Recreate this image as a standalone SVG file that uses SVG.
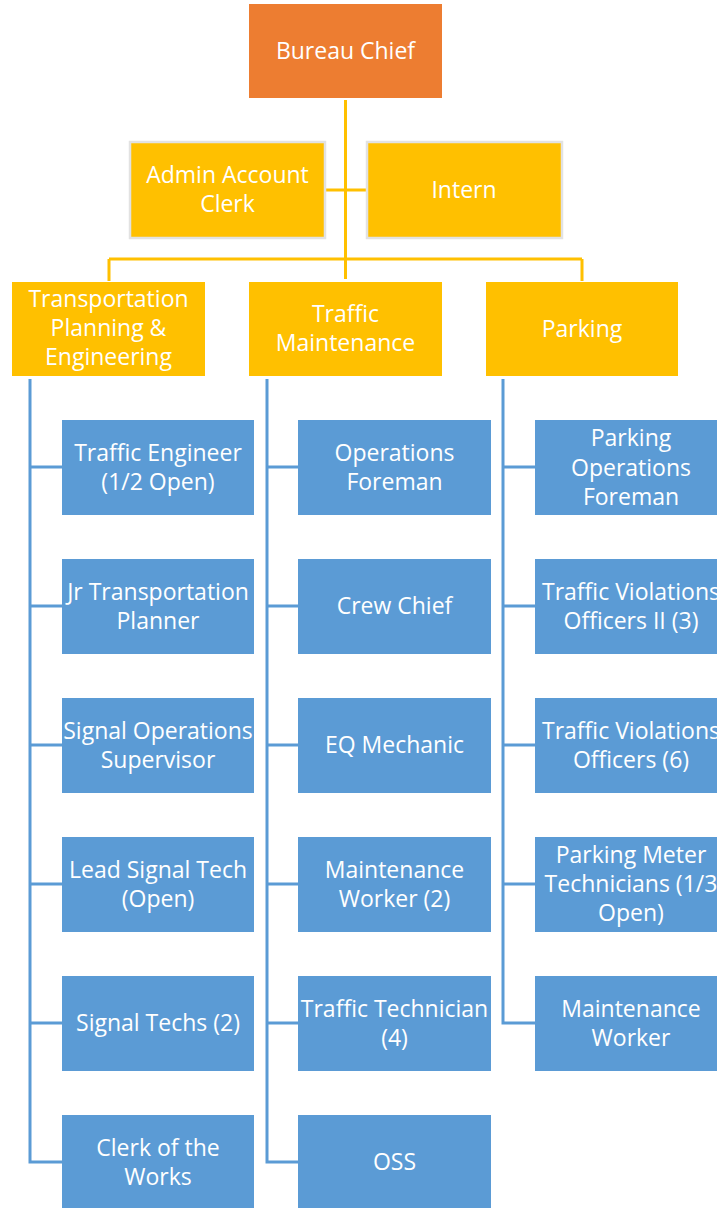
<svg xmlns="http://www.w3.org/2000/svg" width="717" height="1208" viewBox="0 0 717 1208">
<style>
.t{font-family:"Open Sans","Liberation Sans",sans-serif;font-size:23px;fill:#fff;text-anchor:middle;dominant-baseline:central}
.or{fill:#ED7D31}
.yl{fill:#FFC000}
.ys{fill:#FFC000;stroke:#E2E2E2;stroke-width:2.5}
.bl{fill:#5B9BD5}
.cy{stroke:#FFC000;stroke-width:3;fill:none}
.cb{stroke:#5B9BD5;stroke-width:3;fill:none}
</style>
<rect width="717" height="1208" fill="#fff"/>
<g id="connectors">
<path class="cy" d="M345.5 100V279M326 190H366M109 259H582M109 259V281M582 259V281"/>
<path class="cb" d="M30 379V1162H62M30 467H62M30 606H62M30 745H62M30 884H62M30 1023H62"/>
<path class="cb" d="M267 379V1162H298M267 467H298M267 606H298M267 745H298M267 884H298M267 1023H298"/>
<path class="cb" d="M503 379V1023H535M503 467H535M503 606H535M503 745H535M503 884H535"/>
</g>
<g id="bureau-chief"><rect class="or" x="249" y="4" width="193" height="94"/><text class="t" x="345.5" y="50">Bureau Chief</text></g>
<g id="admin-account-clerk"><rect class="ys" x="130" y="142" width="195" height="96"/><text class="t" x="227.5" y="174">Admin Account</text><text class="t" x="227.5" y="203">Clerk</text></g>
<g id="intern"><rect class="ys" x="367" y="142" width="195" height="96"/><text class="t" x="464" y="189">Intern</text></g>
<g id="transportation"><rect class="yl" x="12" y="282" width="193" height="94"/><text class="t" x="108.5" y="298">Transportation</text><text class="t" x="108.5" y="327">Planning &amp;</text><text class="t" x="108.5" y="356">Engineering</text></g>
<g id="traffic-maintenance"><rect class="yl" x="249" y="282" width="193" height="94"/><text class="t" x="345.5" y="313">Traffic</text><text class="t" x="345.5" y="342">Maintenance</text></g>
<g id="parking"><rect class="yl" x="486" y="282" width="192" height="94"/><text class="t" x="582" y="328">Parking</text></g>

<g id="traffic-engineer"><rect class="bl" x="62" y="420" width="192" height="95"/><text class="t" x="158" y="452">Traffic Engineer</text><text class="t" x="158" y="481">(1/2 Open)</text></g>
<g id="jr-transportation-planner"><rect class="bl" x="62" y="559" width="192" height="95"/><text class="t" x="158" y="591">Jr Transportation</text><text class="t" x="158" y="620">Planner</text></g>
<g id="signal-operations-supervisor"><rect class="bl" x="62" y="698" width="192" height="95"/><text class="t" x="158" y="730">Signal Operations</text><text class="t" x="158" y="759">Supervisor</text></g>
<g id="lead-signal-tech"><rect class="bl" x="62" y="837" width="192" height="95"/><text class="t" x="158" y="869">Lead Signal Tech</text><text class="t" x="158" y="898">(Open)</text></g>
<g id="signal-techs"><rect class="bl" x="62" y="976" width="192" height="95"/><text class="t" x="158" y="1022">Signal Techs (2)</text></g>
<g id="clerk-of-the-works"><rect class="bl" x="62" y="1115" width="192" height="95"/><text class="t" x="158" y="1147">Clerk of the</text><text class="t" x="158" y="1176">Works</text></g>

<g id="operations-foreman"><rect class="bl" x="298" y="420" width="193" height="95"/><text class="t" x="394.5" y="452">Operations</text><text class="t" x="394.5" y="481">Foreman</text></g>
<g id="crew-chief"><rect class="bl" x="298" y="559" width="193" height="95"/><text class="t" x="394.5" y="605">Crew Chief</text></g>
<g id="eq-mechanic"><rect class="bl" x="298" y="698" width="193" height="95"/><text class="t" x="394.5" y="744">EQ Mechanic</text></g>
<g id="maintenance-worker-2"><rect class="bl" x="298" y="837" width="193" height="95"/><text class="t" x="394.5" y="869">Maintenance</text><text class="t" x="394.5" y="898">Worker (2)</text></g>
<g id="traffic-technician"><rect class="bl" x="298" y="976" width="193" height="95"/><text class="t" x="394.5" y="1008">Traffic Technician</text><text class="t" x="394.5" y="1037">(4)</text></g>
<g id="oss"><rect class="bl" x="298" y="1115" width="193" height="95"/><text class="t" x="394.5" y="1161">OSS</text></g>

<g id="parking-operations-foreman"><rect class="bl" x="535" y="420" width="192" height="95"/><text class="t" x="631" y="437">Parking</text><text class="t" x="631" y="467">Operations</text><text class="t" x="631" y="496">Foreman</text></g>
<g id="traffic-violations-officers-ii"><rect class="bl" x="535" y="559" width="192" height="95"/><text class="t" x="631" y="591">Traffic Violations</text><text class="t" x="631" y="620">Officers II (3)</text></g>
<g id="traffic-violations-officers"><rect class="bl" x="535" y="698" width="192" height="95"/><text class="t" x="631" y="730">Traffic Violations</text><text class="t" x="631" y="759">Officers (6)</text></g>
<g id="parking-meter-technicians"><rect class="bl" x="535" y="837" width="192" height="95"/><text class="t" x="631" y="854">Parking Meter</text><text class="t" x="631" y="883">Technicians (1/3</text><text class="t" x="631" y="912">Open)</text></g>
<g id="maintenance-worker"><rect class="bl" x="535" y="976" width="192" height="95"/><text class="t" x="631" y="1008">Maintenance</text><text class="t" x="631" y="1037">Worker</text></g>
</svg>
